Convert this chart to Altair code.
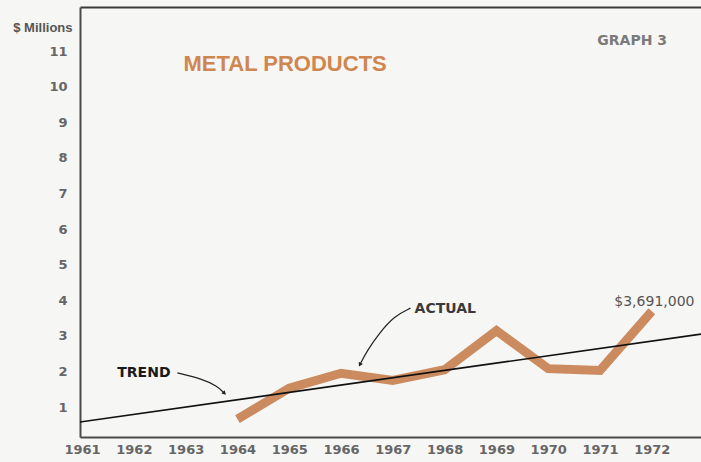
import altair as alt
import pandas as pd

# ---- data -------------------------------------------------------------
years = [1964, 1965, 1966, 1967, 1968, 1969, 1970, 1971, 1972]
actual = [0.66, 1.53, 1.95, 1.75, 2.05, 3.15, 2.08, 2.03, 3.691]

trend_years = [1960.96, 1972.95]
trend_vals = [0.58, 3.05]

tick_years = list(range(1961, 1973))
tick_vals = list(range(1, 12))

# curved pointer paths (year, value) for the two callouts
trend_arrow_x = [1962.84, 1963.32, 1963.61, 1963.74]
trend_arrow_y = [1.96, 1.79, 1.59, 1.40]
actual_arrow_x = [1967.34, 1967.03, 1966.74, 1966.51, 1966.37]
actual_arrow_y = [3.78, 3.56, 3.08, 2.60, 2.21]

labels_text = ["METAL PRODUCTS", "GRAPH 3", "TREND", "ACTUAL", "$3,691,000"]
labels_x = [1964.92, 1971.62, 1961.68, 1967.42, 1972.05]
labels_y = [10.64, 11.28, 1.96, 3.75, 3.95]

X_DOMAIN = [1960.96, 1972.95]
Y_DOMAIN = [0.16, 12.24]

ORANGE = "#c98556"
GREY = "#666666"
FONT = "DejaVu Sans"

actual_df = pd.DataFrame({"year": years, "value": actual})
trend_df = pd.DataFrame({"year": trend_years, "value": trend_vals})
arrows_df = pd.DataFrame(
    {
        "year": trend_arrow_x + actual_arrow_x,
        "value": trend_arrow_y + actual_arrow_y,
        "arrow": ["trend"] * len(trend_arrow_x) + ["actual"] * len(actual_arrow_x),
        "step": list(range(len(trend_arrow_x))) + list(range(len(actual_arrow_x))),
    }
)
heads_df = pd.DataFrame(
    {
        "year": [trend_arrow_x[-1], actual_arrow_x[-1]],
        "value": [trend_arrow_y[-1], actual_arrow_y[-1]],
        "angle": [135, 207],
    }
)
text_df = pd.DataFrame({"text": labels_text, "year": labels_x, "value": labels_y})

x_scale = alt.Scale(domain=X_DOMAIN, nice=False, zero=False)
y_scale = alt.Scale(domain=Y_DOMAIN, nice=False, zero=False)

x_bottom = alt.X(
    "year:Q",
    scale=x_scale,
    axis=alt.Axis(
        values=tick_years,
        format="d",
        title=None,
        grid=False,
        ticks=False,
        tickSize=0,
        labelPadding=6,
        labelFont=FONT,
        labelFontSize=13,
        labelFontWeight="bold",
        labelColor=GREY,
        labelFlush=False,
        domainColor="#4a4a4a",
        domainWidth=2,
    ),
)
y_left = alt.Y(
    "value:Q",
    scale=y_scale,
    axis=alt.Axis(
        values=tick_vals,
        title="$ Millions",
        titleAngle=0,
        titleAlign="right",
        titleBaseline="middle",
        titleX=-8,
        titleY=20,
        titleFont="Liberation Sans",
        titleFontSize=13,
        titleFontWeight="bold",
        titleColor="#555555",
        grid=False,
        ticks=False,
        tickSize=0,
        labelPadding=13,
        labelFont=FONT,
        labelFontSize=13,
        labelFontWeight="bold",
        labelColor=GREY,
        labelFlush=False,
        domainColor="#4a4a4a",
        domainWidth=2,
    ),
)

# top frame line drawn as a label-less axis
x_top = alt.X(
    "year:Q",
    scale=x_scale,
    axis=alt.Axis(
        orient="top",
        labels=False,
        ticks=False,
        grid=False,
        title=None,
        domainColor="#3a3a3a",
        domainWidth=2,
    ),
)

trend = alt.Chart(trend_df).mark_line(color="#111111", strokeWidth=1.6, clip=True).encode(
    x=x_top, y=alt.Y("value:Q", scale=y_scale, axis=None)
)

actual_line = alt.Chart(actual_df).mark_line(
    color=ORANGE, strokeWidth=9, strokeJoin="miter", strokeCap="butt", opacity=0.95
).encode(x=x_bottom, y=y_left)

pointers = alt.Chart(arrows_df).mark_line(
    color="#222222", strokeWidth=1.2, interpolate="basis"
).encode(
    x=alt.X("year:Q", scale=x_scale, axis=None),
    y=alt.Y("value:Q", scale=y_scale, axis=None),
    detail="arrow:N",
    order="step:Q",
)

heads = alt.Chart(heads_df).mark_point(
    shape="triangle", filled=True, color="#222222", size=22, opacity=1
).encode(
    x=alt.X("year:Q", scale=x_scale, axis=None),
    y=alt.Y("value:Q", scale=y_scale, axis=None),
    angle=alt.Angle("angle:Q", scale=None),
)

def label(idx, **style):
    return (
        alt.Chart(text_df.iloc[[idx]])
        .mark_text(baseline="middle", **style)
        .encode(
            x=alt.X("year:Q", scale=x_scale, axis=None),
            y=alt.Y("value:Q", scale=y_scale, axis=None),
            text="text:N",
        )
    )

title_lbl = label(0, font="Liberation Sans", fontSize=22, fontWeight="bold", color="#cf8650", align="center")
graph_lbl = label(1, font=FONT, fontSize=14, fontWeight="bold", color="#7a7a7a", align="center")
trend_lbl = label(2, font=FONT, fontSize=14, fontWeight="bold", color="#1a1a1a", align="left")
actual_lbl = label(3, font=FONT, fontSize=14, fontWeight="bold", color="#3a3a3a", align="left")
value_lbl = label(4, font=FONT, fontSize=14, color="#555555", align="center")

chart = (
    alt.layer(
        actual_line,
        trend,
        pointers,
        heads,
        title_lbl,
        graph_lbl,
        trend_lbl,
        actual_lbl,
        value_lbl,
    )
    .resolve_axis(x="independent", y="independent")
    .properties(
        width=621,
        height=430,
        autosize=alt.AutoSizeParams(type="none"),
        padding={"left": 80, "top": 7, "right": 0, "bottom": 25},
        background="#f6f6f4",
    )
    .configure_view(stroke=None)
)

chart.save("out.html", embed_options={"renderer": "svg", "actions": False})
